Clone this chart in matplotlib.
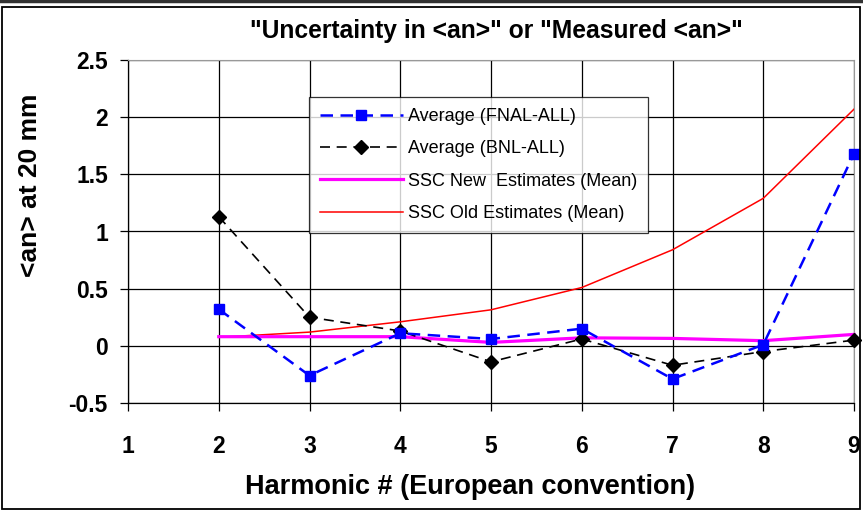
import numpy as np
import matplotlib.pyplot as plt
from matplotlib.patches import Rectangle
from matplotlib.lines import Line2D

plt.rcParams['font.family'] = ['Liberation Sans', 'DejaVu Sans']

### Harmonic data, <an> at 20 mm

harmonic = [2, 3, 4, 5, 6, 7, 8, 9]
fnal_all = [0.32, -0.26, 0.11, 0.06, 0.15, -0.29, 0.01, 1.68]
bnl_all = [1.13, 0.25, 0.13, -0.14, 0.06, -0.17, -0.05, 0.05]
ssc_new = [0.08, 0.08, 0.08, 0.03, 0.07, 0.065, 0.045, 0.10]
ssc_old = [0.075, 0.12, 0.21, 0.315, 0.51, 0.84, 1.29, 2.07]

x_ticks = [1, 2, 3, 4, 5, 6, 7, 8, 9]
y_ticks = [-0.5, 0, 0.5, 1, 1.5, 2, 2.5]
y_labels = ['-0.5', '0', '0.5', '1', '1.5', '2', '2.5']

W, H = 863, 511
fig = plt.figure(figsize=(W / 100, H / 100), dpi=100)
ax = fig.add_axes([128 / W, 1 - 403 / H, (854 - 128) / W, (403 - 60) / H])

ax.plot(harmonic, ssc_old, color='#ff0000', lw=1.1, zorder=3,
        label='SSC Old Estimates (Mean)')
ax.plot(harmonic, ssc_new, color='#ff00ff', lw=2.3, zorder=3, clip_on=False,
        label='SSC New  Estimates (Mean)')
ax.plot(harmonic, bnl_all, color='black', lw=1.2, ls=(0, (6, 4)), marker='D',
        ms=7.5, mfc='black', mec='black', zorder=4, clip_on=False,
        label='Average (BNL-ALL)')
ax.plot(harmonic, fnal_all, color='#0000ff', lw=1.8, ls=(0, (5, 3)), marker='s',
        ms=7.5, mfc='#0000ff', mec='#0000ff', zorder=5, clip_on=False,
        label='Average (FNAL-ALL)')

ax.set_xlim(1, 9)
ax.set_ylim(-0.5, 2.5)
ax.set_xticks(x_ticks)
ax.set_yticks(y_ticks)
ax.set_yticklabels(y_labels)
ax.grid(True, color='black', lw=0.9)
ax.set_axisbelow(True)
ax.tick_params(direction='out', length=6, width=0.9, labelsize=16.5)
ax.tick_params(axis='x', pad=17)
ax.tick_params(axis='y', pad=8.5)
for lbl in ax.get_xticklabels() + ax.get_yticklabels():
    lbl.set_fontweight('bold')
for side in ['top', 'right']:
    ax.spines[side].set_color('#999999')
for side in ['left', 'bottom']:
    ax.spines[side].set_linewidth(0.9)

fig.text(496 / W, 1 - 31 / H, '"Uncertainty in <an>" or "Measured <an>"',
         ha='center', va='center', fontsize=17.7, fontweight='bold')
fig.text(470 / W, 1 - 487 / H, 'Harmonic # (European convention)',
         ha='center', va='center', fontsize=19.5, fontweight='bold')
fig.text(30 / W, 1 - 185 / H, '<an> at 20 mm', rotation=90,
         ha='center', va='center', fontsize=19, fontweight='bold')

# legend in the same order as the series were listed
h, l = ax.get_legend_handles_labels()
order = [3, 2, 1, 0]
leg = ax.legend([h[i] for i in order], [l[i] for i in order],
                loc='upper left', bbox_to_anchor=((309 - 128) / 726, (403 - 97) / 343),
                fontsize=13, frameon=True, fancybox=False, handlelength=4.6,
                borderpad=0.6, labelspacing=0.85, handletextpad=0.3,
                borderaxespad=0)
leg.get_frame().set_edgecolor('black')
leg.get_frame().set_linewidth(0.9)
leg.set_zorder(10)

# outer chart border
fig.patches.append(Rectangle((2 / W, 1 - 509 / H), 858 / W, 502 / H,
                             transform=fig.transFigure, fill=False,
                             edgecolor='black', lw=1.3))
fig.lines.append(Line2D([0, 1], [1 - 1 / H, 1 - 1 / H], transform=fig.transFigure,
                        color='#333333', lw=2.5))

fig.savefig('out.png', dpi=100)
